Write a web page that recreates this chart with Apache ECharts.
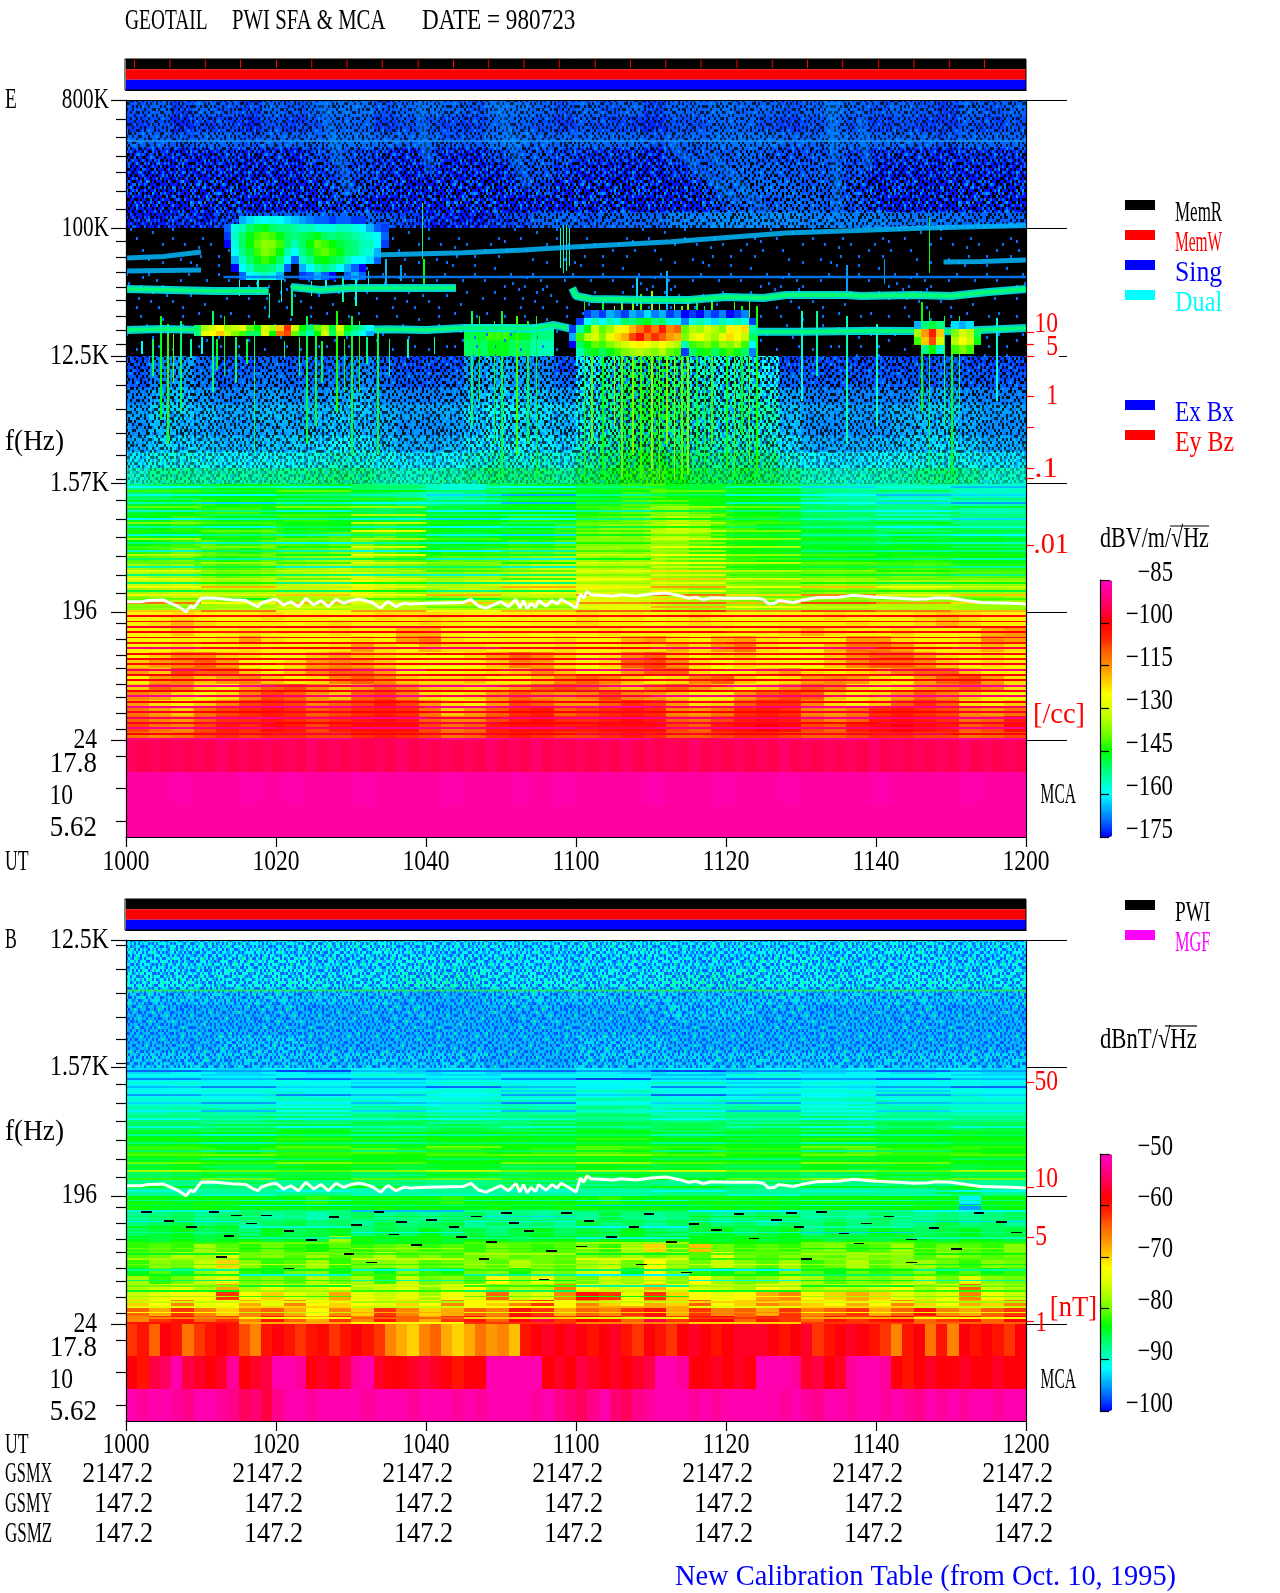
<!DOCTYPE html>
<html><head><meta charset="utf-8">
<style>html,body{margin:0;padding:0;background:#fff}#c{width:1280px;height:1593px}</style>
<script src="https://cdn.jsdelivr.net/npm/echarts@6/dist/echarts.min.js"></script>
</head><body><div id="c"></div>
<script>
// ---------- labels ----------
const utLabels=['1000','1020','1040','1100','1120','1140','1200'];
const gsmx=['2147.2','2147.2','2147.2','2147.2','2147.2','2147.2','2147.2'];
const gsmy=['147.2','147.2','147.2','147.2','147.2','147.2','147.2'];
const gsmz=['147.2','147.2','147.2','147.2','147.2','147.2','147.2'];
const cbLabelsE=['−85','−100','−115','−130','−145','−160','−175'];
const cbLabelsB=['−50','−60','−70','−80','−90','−100'];
// ---------- frequency ticks (Hz) ----------
const majorE=[800000,100000,12500,1570,196,24.4];
const majorB=[12500,1570,196,24.4];
const minorHi=[587000,439000,322000,248000,182000,136000,80000,62400,49000,38000,30700,23700,19000,15200];
const minorLo=[11500,7800,5300,3580,2500,1690,1205,885,653,480,356,266,163,126,97,78.6,60.6,49,37.8,29.2];
const densityE=[18460,15190,12500,6530,3950,2030,1720,580];
const densityB=[1245,226,100,25.6];
// ---------- E spectrogram, dB magnitude ----------
const eHigh=[
[171,170,172,170,171,172,170,171,170,169,169,171,170,169,170,171,169,169,170,171,170,171,170,172,170,170,169,170,170,171,170,169,170,171,170,171,172,170,171,170],
[172,171,173,172,172,173,171,172,171,170,170,172,171,171,172,172,170,170,171,172,171,172,172,173,171,171,170,170,171,172,171,170,171,172,171,172,172,171,172,171],
[170,170,171,170,170,171,170,170,170,169,169,170,170,170,171,171,169,169,170,170,170,170,170,171,170,170,169,169,169,170,170,169,170,170,170,170,171,170,170,170],
[173,173,174,174,173,174,173,174,172,171,172,173,174,172,174,174,172,171,171,172,173,173,173,174,172,171,171,170,171,172,171,171,172,173,173,173,174,173,173,173],
[174,174,174,174,174,174,174,174,173,172,172,173,174,174,174,174,174,172,171,173,174,174,174,174,173,172,171,170,170,171,171,171,172,174,174,174,174,174,174,174],
[174,174,174,174,174,174,174,174,174,172,172,174,174,174,174,174,174,174,172,174,174,174,174,174,174,173,171,170,170,170,171,171,173,174,174,174,174,174,174,174],
[174,174,174,174,174,174,174,174,174,173,174,174,174,174,174,174,174,174,174,174,174,174,174,174,174,174,172,171,171,170,170,171,172,174,174,174,174,174,174,174],
[174,174,173,174,172,172,170,170,170,170,170,171,172,174,174,174,173,172,170,170,171,170,170,170,168,168,167,167,167,167,168,168,168,168,169,169,169,170,170,170]];
const eMid=[
[185,185,185,185,185,185,185,185,185,185,185,185,185,185,185,185,185,185,185,185,185,185,185,185,185,185,185,185,185,185,185,185,185,185,185,185,185,185,185,185],
[185,185,185,185,185,185,185,185,185,185,185,185,185,185,185,185,185,185,185,185,185,185,185,185,185,185,185,185,185,185,185,185,185,185,185,185,185,185,185,185],
[185,185,185,185,185,185,185,185,185,185,185,185,185,185,185,185,185,185,185,185,185,185,185,185,185,185,185,185,185,185,185,185,185,185,185,185,185,185,185,185],
[185,185,185,185,185,185,185,185,185,185,185,185,185,185,185,185,185,185,185,185,185,185,185,185,185,185,185,185,185,185,185,185,185,185,185,185,185,185,185,185],
[185,185,185,185,185,185,185,185,185,185,185,185,185,185,185,185,185,185,185,185,185,185,185,185,185,185,185,185,185,185,185,185,185,185,185,185,185,185,185,185],
[185,185,185,185,185,185,185,185,185,185,185,185,185,185,185,185,185,185,185,185,185,185,185,185,185,185,185,185,185,185,185,185,185,185,185,185,185,185,185,185],
[185,185,185,185,185,185,185,185,185,185,185,185,185,185,185,148,142,146,152,185,185,185,185,185,185,185,185,185,185,185,185,185,185,185,185,185,185,185,185,185],
[185,185,185,185,185,185,185,185,185,185,185,185,185,185,185,150,146,150,155,185,185,185,185,185,185,185,185,185,185,185,185,185,185,185,185,185,185,185,185,185]];
// fine patches where the emission is much brighter: dB magnitude, 0 = nothing
const burstDome=[
[0,0,0,165,162,158,160,158,160,162,164,166,168,170,170,172,170,170,172,172,0,0,0,0],
[0,170,158,155,150,148,146,150,152,152,154,156,155,158,158,158,156,156,158,160,165,170,172,0],
[0,172,156,150,146,142,140,142,146,150,152,150,148,146,150,152,150,152,154,156,158,160,170,0],
[0,175,158,150,145,140,137,138,142,150,155,150,145,140,142,145,148,150,152,155,156,160,172,0],
[0,0,160,152,148,142,138,140,145,155,160,152,148,142,140,143,146,150,152,156,158,165,0,0],
[0,0,165,156,150,146,142,145,150,160,170,156,152,146,145,148,150,155,160,160,162,170,0,0],
[0,0,175,160,155,150,150,152,156,170,0,165,160,155,152,155,160,165,170,175,0,0,0,0],
[0,0,0,170,160,158,155,158,165,0,0,172,170,165,170,175,0,170,165,170,0,0,0,0]];
const burstRise=[
[0,0,0,172,168,172,165,168,172,165,168,162,168,165,172,168,175,172,175,168,172,168,175,172,168,0,0],
[0,0,172,160,155,160,155,158,150,152,148,146,152,150,158,158,168,158,155,158,162,155,158,155,158,172,0],
[0,172,155,146,132,140,136,128,124,118,112,106,112,104,114,110,140,134,136,130,134,138,124,128,122,155,0],
[0,165,142,134,130,138,128,122,118,108,102,112,106,110,116,118,138,130,126,132,136,128,122,126,132,150,0],
[0,175,150,145,140,142,138,134,130,126,124,126,130,126,130,134,155,142,140,138,142,136,138,134,142,160,0],
[0,0,155,148,146,150,146,142,138,136,134,136,138,134,140,142,172,150,146,144,150,146,142,146,150,168,0]];
const burstRight=[
[0,165,152,148,152,0,162,165,162,0],[0,135,116,104,120,0,138,130,134,150],[0,142,120,108,130,0,134,126,132,146],[0,0,152,145,156,0,142,138,142,0]];
const burstLeft=[
[150,135,130,125,135,132,128,140,145,130,135,120,106,130,145,150,140,135,148,130,145,150,155,160],
[152,128,125,120,130,138,142,150,150,128,145,112,108,140,150,155,145,130,150,135,150,155,160,165]];
const eUp=[
[172,168,166,170,172,172,170,171,172,170,168,171,172,172,172,166,164,166,168,172,160,154,150,148,152,157,158,157,160,172,172,172,172,172,172,172,171,172,172,172],
[171,168,166,169,171,170,169,170,170,169,167,170,171,171,170,166,164,166,167,170,160,153,149,148,151,157,158,157,159,170,171,171,171,171,171,171,170,171,171,171],
[168,165,164,166,168,167,166,167,167,165,164,167,168,168,167,164,162,163,164,166,158,152,148,147,150,155,157,155,157,166,168,168,168,168,168,166,165,167,168,168],
[166,163,163,164,165,165,164,165,164,163,163,165,166,166,165,162,160,161,162,163,157,152,148,147,150,154,155,154,155,164,166,166,166,166,165,164,163,165,166,166],
[167,164,164,165,166,166,165,165,164,163,164,165,167,167,166,163,161,163,163,164,158,154,150,149,152,156,157,155,157,164,167,167,167,167,165,164,163,165,167,167],
[165,162,162,163,164,164,163,163,162,160,161,163,165,165,164,161,159,160,161,162,156,152,149,148,151,154,155,154,155,161,165,165,165,164,163,162,161,163,165,165],
[161,158,158,159,160,160,159,159,158,156,157,159,161,161,160,157,155,157,156,158,153,150,147,146,148,151,152,151,152,157,160,161,161,160,159,158,157,159,161,161],
[156,153,153,154,154,154,153,153,152,151,152,154,156,155,154,152,150,151,151,153,149,147,144,143,145,148,149,148,149,152,155,156,156,155,154,152,151,153,156,156]];
const eLow1=[
[152,150,148,148,146,145,146,148,147,146,150,152,152,155,158,158,150,148,147,146,147,148,143,142,146,148,147,146,146,148,152,153,155,155,155,154,155,156,157,157],
[150,150,147,146,146,145,145,146,147,148,149,150,153,156,155,152,148,146,145,146,147,146,142,142,144,146,146,145,146,147,150,154,155,154,156,155,155,157,156,157],
[147,146,146,143,145,144,146,147,146,146,147,148,150,152,150,150,148,146,145,145,144,144,141,140,140,144,146,145,146,147,150,152,154,153,152,152,154,156,155,155],
[148,146,145,143,142,142,146,145,144,145,148,150,148,147,148,147,146,146,146,145,144,142,140,138,136,140,143,145,145,147,150,150,151,152,153,152,150,154,155,154],
[146,146,142,143,145,146,144,143,143,146,146,147,148,146,146,146,145,143,143,144,142,141,139,136,132,136,142,144,143,148,149,150,152,150,150,150,151,153,152,152],
[147,145,143,144,146,145,143,145,144,145,144,142,144,145,146,147,147,146,145,142,140,137,137,135,130,134,141,142,146,147,148,148,150,150,151,150,148,150,150,150],
[144,146,146,144,143,144,142,144,143,141,142,140,143,146,148,148,146,144,144,142,138,136,138,134,132,136,143,144,144,146,148,148,148,149,146,147,148,149,148,150],
[145,144,142,140,143,143,140,141,142,140,138,142,143,146,146,145,144,142,143,140,138,138,138,136,136,141,143,144,145,147,147,147,148,148,146,146,147,147,147,148],
[143,142,138,140,142,144,141,140,140,137,136,140,142,145,143,143,142,140,141,138,136,136,138,136,138,143,144,145,146,147,147,146,146,146,144,146,146,146,146,147],
[141,140,138,142,144,143,140,138,136,134,134,139,141,142,140,141,140,138,136,134,135,138,136,137,140,142,142,143,145,146,144,144,145,145,144,143,144,145,145,146],
[136,138,136,140,142,141,138,136,135,132,134,136,138,140,140,139,138,136,132,132,133,135,134,136,138,141,141,142,143,143,142,142,143,142,142,141,142,143,143,143],
[133,136,135,137,140,138,136,134,133,130,130,134,136,137,138,136,135,132,130,130,132,133,133,135,137,138,139,140,140,141,140,139,140,140,138,138,140,140,140,141],
[131,132,130,133,136,136,133,132,130,128,126,130,133,135,135,132,130,128,126,128,130,132,132,133,135,136,136,137,138,138,136,134,136,136,134,135,136,135,136,136],
[136,134,132,133,134,134,133,133,133,130,127,132,136,136,134,132,132,130,126,128,128,130,133,133,135,138,138,138,140,140,138,136,138,137,134,134,136,136,136,135],
[138,136,133,134,137,136,135,135,134,133,130,134,136,138,136,135,135,134,132,133,128,128,130,132,134,136,136,138,140,140,138,138,138,136,136,136,136,138,138,136],
[137,136,135,136,134,135,134,133,135,135,132,133,134,134,134,135,135,135,134,134,130,128,128,130,134,136,136,136,138,136,135,136,136,134,135,135,134,136,136,137]];
const eLow2=[
[124,124,122,124,126,124,122,124,124,126,124,122,123,122,123,124,126,124,124,124,122,124,123,126,124,122,124,126,127,124,124,122,124,124,124,122,120,122,124,124],
[124,122,118,122,124,124,124,126,124,122,124,124,124,122,124,126,126,126,124,124,122,124,124,126,124,122,124,126,126,124,124,124,122,124,124,122,118,122,124,124],
[124,124,120,124,124,122,124,124,124,122,124,124,118,118,124,126,124,124,126,124,124,122,124,124,124,124,124,126,124,122,118,122,124,124,122,124,124,124,118,116],
[124,126,124,124,122,116,122,124,126,124,122,124,116,112,122,124,124,124,124,122,124,124,118,116,122,124,118,116,122,124,124,124,116,116,122,124,124,122,114,116],
[124,124,122,124,124,122,124,124,124,122,116,122,124,118,122,122,124,124,124,122,124,124,122,122,118,122,116,112,122,124,124,118,112,112,116,122,124,122,118,122],
[124,120,114,114,120,122,124,124,120,116,120,122,124,126,126,122,116,110,114,120,124,122,114,110,120,124,122,120,124,126,124,120,114,110,110,116,122,124,122,126],
[120,116,114,110,116,124,126,122,116,114,116,120,124,126,126,124,120,114,116,122,126,122,110,108,114,122,126,122,124,126,126,120,114,110,110,114,120,124,122,124],
[116,120,108,110,110,120,124,120,114,110,110,116,124,124,126,124,122,120,114,120,126,124,116,110,110,122,126,124,120,116,122,124,122,120,114,110,110,120,124,124],
[124,116,114,120,116,114,120,124,122,114,110,114,120,122,122,120,124,124,120,114,110,114,120,124,122,114,110,120,124,122,116,114,116,122,124,116,110,108,116,122],
[120,110,114,122,124,116,110,108,114,120,116,110,114,120,120,122,120,116,110,108,110,116,120,114,110,116,120,124,120,114,110,114,122,124,122,116,114,110,114,122],
[114,116,122,126,122,114,108,110,116,120,110,108,114,122,124,122,116,110,114,116,114,108,114,116,120,124,124,116,110,108,110,120,124,122,116,110,114,120,124,126],
[116,122,124,120,114,108,106,108,114,110,108,104,108,116,122,124,116,108,110,116,116,110,106,108,116,122,120,110,106,106,114,122,124,120,110,106,110,122,124,120],
[112,116,120,112,108,106,104,106,110,108,106,104,106,112,120,116,110,106,104,110,108,106,104,106,114,116,112,106,104,106,114,116,112,106,104,106,108,114,116,112],
[110,114,116,110,106,106,104,106,108,106,104,102,104,110,114,114,108,104,102,106,106,104,102,104,110,112,108,104,102,104,110,114,110,104,102,104,106,112,110,104],
[108,112,114,108,104,106,102,104,108,104,102,102,102,108,112,110,104,102,102,104,104,102,102,102,108,110,104,102,100,102,108,110,104,102,100,102,104,110,108,102],
[112,114,112,108,106,108,106,106,108,108,106,104,106,108,112,110,106,104,106,108,108,106,104,106,110,110,108,106,106,108,110,110,108,106,106,108,108,112,110,108]];
const eStripe1=[
[160,155,158,150,157,160,152,148,156,162,158,164],[142,148,140,145,150,152,146,140,148,152,150,156],[158,160,152,155,162,165,154,150,158,160,164,162],[150,146,150,143,155,150,148,144,146,154,158,152],
[155,162,156,160,158,164,150,146,156,160,162,166],[140,144,138,136,148,146,142,136,140,150,152,148],[156,152,158,150,160,158,154,148,152,158,160,156],[146,150,142,134,150,154,144,138,146,150,156,152],
[160,156,154,158,162,160,152,146,150,156,158,162],[138,142,146,132,144,150,140,134,142,148,146,152],[154,158,150,156,160,156,148,144,150,154,160,158],[144,140,148,128,146,148,142,132,138,146,150,148],
[158,152,156,150,158,162,146,140,148,154,156,160],[136,146,140,134,142,146,138,130,136,144,148,146],[152,156,160,154,156,158,144,138,146,150,154,156],[142,138,144,130,148,144,136,128,134,146,146,150],
[156,150,154,158,160,154,142,136,144,152,154,152],[134,140,146,128,144,148,132,126,136,142,146,144],[150,154,152,148,156,158,146,134,142,150,152,156],[140,136,142,130,138,144,130,126,132,140,142,146],
[154,148,156,152,150,156,140,132,144,148,150,154],[130,138,134,136,142,140,128,122,134,138,144,142],[152,146,150,154,156,150,138,130,142,146,148,152],[128,134,140,130,136,142,126,120,130,136,140,138],
[150,144,152,146,150,152,136,128,140,144,148,146],[126,118,132,128,134,118,124,116,128,120,126,132],[148,142,150,146,152,148,134,126,138,142,144,148],[124,130,120,126,118,132,116,112,122,114,128,120],
[140,146,136,142,148,140,130,122,134,136,140,142],[112,126,118,128,120,124,114,110,118,108,116,122],[138,136,130,134,140,138,128,118,126,132,134,136],[120,112,124,116,126,118,110,106,114,108,112,118]];
const eStripe2=[
[100,102,100,102,100,100,102,100,98,102,100,102],[102,100,102,100,104,100,100,102,100,100,102,100],[98,102,100,98,102,100,102,98,100,102,98,100],[100,104,102,100,98,102,100,100,104,100,102,100],
[100,98,102,100,98,100,102,100,98,100,102,98],[104,100,100,102,100,98,100,104,100,102,100,102],[92,98,100,96,92,98,100,94,98,92,100,96],[100,102,98,104,100,102,98,100,102,100,98,100],
[100,100,98,100,102,100,94,100,100,98,100,102],[102,100,104,100,98,100,102,100,104,100,100,98],[94,100,96,92,100,96,92,98,94,100,96,92],[100,98,100,102,100,104,100,98,100,102,98,100],
[100,98,100,102,98,100,100,102,100,98,100,100],[92,90,96,92,90,94,92,96,90,94,92,90],[100,102,100,98,100,102,98,100,102,100,100,98],[90,94,92,90,94,92,96,90,92,94,90,92],
[100,100,98,100,102,100,100,98,102,100,98,100],[90,92,90,94,90,92,90,94,92,90,92,94],[98,100,98,100,98,100,98,100,100,98,100,98],[94,90,92,90,96,92,90,92,94,90,92,90],
[98,96,100,98,96,100,98,96,98,100,96,98],[90,92,94,90,92,90,94,92,90,92,94,90],[100,98,96,100,98,100,96,98,100,98,96,100],[92,90,92,94,90,92,90,94,92,90,92,90]];
const eChan1=[94,95,94,95,94,95,94,95,93,95,94,95,94,95,94,95,93,95,94,95,94,95,94,95,93,95,94,95,94,95,94,95,93,95,94,95,93,95,94,95,94,95,94,95,93,95,94,95,94,95,93,95,94,95,94,95,94,95,93,95,94,95,94,95,94,95,93,95,94,95,94,95,94,95,93,95,94,95,94,95];
const eChan2=[88,88,87,88,88,87,88,87,88,88,87,88,88,88,87,88,88,87,88,87,88,88,88,87,88,88,87,88,88,87,88,88,88,87,88,88,88,87,88,88];
const eChan3=[88,88,88,88,88,88,88,88,88,88,88,88,88,88,88,88,88,88,88,88,88,88,88,88,88,88,88,88,88,88,88,88,88,88,88,88,88,88,88,88];
// burst streaks: minute, upper Hz, lower Hz, dB magnitude
const eStreaks=[[4.5,24000,4500,146],[5.5,21000,3000,143],[6.2,18000,8000,140],[7.2,22000,5000,150],[11.5,26000,7000,152],[13,24000,9000,146],[17,22000,2500,150],[24,24000,3000,148],[25.2,20000,4000,148],[28,26000,5000,144],[30,24000,2500,148],[31,22000,7000,144],[33.5,19000,2500,148],[46,26000,4000,150],[47,24000,6000,144],[49,22000,3000,146],[50,26000,1800,148],[52,24000,2500,142],[53.5,22000,3000,148],[54.6,24000,1700,146],[57.8,100000,52000,158],[58.2,105000,48000,155],[58.6,105000,50000,156],[59,100000,54000,158],[61,30000,1700,144],[62,26000,3000,140],[63.5,32000,1800,146],[65,28000,4000,136],[66,33000,1700,140],[67.5,31000,2500,138],[68.5,34000,1700,142],[70,36000,2000,136],[71,33000,1700,140],[72,35000,3000,138],[73,31000,1700,136],[74,28000,1700,140],[74.8,30000,1800,138],[76,30000,2500,148],[77,28000,1800,146],[78,31000,3000,142],[80,26000,2000,146],[81,30000,1800,142],[82,28000,3500,145],[83,33000,2200,140],[84,28000,1800,144],[90,26000,6000,158],[92,26000,9000,154],[106,30000,5000,145],[107,26000,2000,148],[109,24000,4000,150],[110,22000,1800,146],[111,24000,5000,150],[96,24000,3000,155],[100,21000,4000,156],[116,23000,6000,158],[19,35000,23000,155],[22,36000,24000,152],[39.4,150000,60000,152],[39.6,60000,40000,146],[107,120000,48000,146],[15,50000,33000,160],[17.5,48000,34000,156],[20.6,44000,30000,158],[24.6,42000,33000,156],[26.5,48000,36000,160],[28.8,46000,30000,155],[30.5,43000,28000,158],[32.2,50000,36000,160],[34.5,60000,40000,164],[36.5,55000,42000,166],[68,45000,28000,162],[72,50000,26000,164],[96,55000,36000,166],[101,60000,40000,166],[2,16000,13000,160],[10,17000,13000,160],[21,16000,12000,150],[41,17000,13000,156],[48,16000,12000,150],[3.5,16500,9000,150],[8.5,16500,12000,155],[12,16500,10000,146],[14.5,17000,8000,150],[16,16500,11000,148],[23,17000,9000,150],[26,16000,8000,148],[29,16500,7000,146],[32,17000,11000,152],[35,16500,9000,154],[37.5,16500,12000,156]];
// whistler-like blue streaks in upper band: minute, Hz, minute, Hz (null separates)
const eSlants=[[26,780000],[30,170000],null,[39,780000],[40.5,240000],null,[49.5,780000],[53.5,190000],null,[94,780000],[95,118000],null,[73,370000],[82,150000],null,[78,330000],[86,120000],null,[98,600000],[99,260000]];
// emission lines: minute, Hz
const lineUpperA=[[0,37100],[6,36500],[12,35900],[19,35900],null,[22,38300],[26,36500],[30,37700],[36,37700],[44,37700]];
const lineUpperB=[[59.5,37700],[60,33100],[62,31600],[70,31000],[75,31000],[80,32600],[85,32100],[88,33700],[96,33700],[98,33100],[105,33700],[110,33100],[115,35400],[120,37100]];
const lineLower=[[0,19100],[5,19400],[10,19100],[15,19300],[20,19100],[25,19500],[30,19100],[35,19300],[40,19100],[45,19700],[50,19700],[54,19400],[57,20700],[60,19100],[65,18500],[70,18800],[80,18500],[90,18500],[100,18800],[110,18700],[120,19700]];
const lineSlopes=[[33,64500],[45,67000],[53,69900],[59.6,73400],[72.7,80000],[88,92200],[107,100000],[120,104000],null,[0,61400],[5,63000],[10,67800],null,[0,49700],[10,50500],null,[109,57600],[114,58000],[120,59500]];
const lineThin=[[13,45100],[120,45100]];
const lineRef=[[0,411000],[120,411000]];
const lineFaint=[[0,5500],[120,5500]];
const fce=[[0,231],[2,231],[3,235],[5,237],[6,225],[7,213],[8,196],[8.6,215],[9,208],[9.5,225],[10,244],[11,245],[12,244],[14,238],[16,235],[17,219],[17.6,213],[18,225],[19,235],[20,240],[21,219],[22,230],[23,213],[24,244],[25,219],[26,235],[27,213],[28,240],[29,225],[30,235],[31,240],[32,235],[33,225],[33.6,213],[34,208],[34.6,225],[35,231],[36,213],[37,225],[38,222],[40,225],[45,228],[46,240],[47,215],[48,208],[49,219],[50,231],[51,213],[52,240],[52.5,208],[53,235],[53.5,205],[54,225],[54.6,210],[55,235],[56,215],[56.8,235],[57.5,222],[58,240],[59,225],[60,208],[60.6,262],[61,244],[61.5,272],[62,258],[65,253],[66,258],[68,253],[70,262],[72,266],[74,253],[75,244],[76,248],[77,238],[78,246],[80,244],[84,244],[85,240],[85.7,222],[86.5,225],[87,235],[89,228],[90,235],[92,246],[95,248],[97,256],[98,253],[100,248],[103,244],[105,240],[107,242],[108,246],[110,244],[112,235],[114,228],[118,225],[120,222]];
// ---------- B spectrogram, dB magnitude ----------
const bHigh=[
[92,92,91,92,92,91,92,92,91,92],[92,91,92,91,92,92,92,91,92,92],[91,91,91,90,91,91,90,91,91,91],[93,93,93,94,93,93,93,93,93,93],
[94,94,94,94,94,94,93,94,94,94],[94,94,94,94,94,94,94,94,94,94],[94,93,94,94,94,93,94,94,94,94],[93,93,93,93,94,93,93,93,93,93]];
const bLow1=[
[93,92,93,92,93,92,93,92,93,93,92,93,92,93,92,93,92,93,92,93],[92,92,92,91,92,92,92,91,92,92,91,92,92,92,91,92,92,92,91,92],
[92,91,91,91,91,92,92,91,90,91,92,91,91,91,91,91,92,91,91,92],[91,91,91,90,91,91,90,91,90,90,91,90,91,91,90,91,90,90,90,91],
[90,90,90,90,90,90,91,90,89,90,90,90,90,89,90,90,89,90,90,90],[89,88,89,88,88,89,88,89,88,89,88,89,88,88,88,89,89,88,89,89],
[87,87,87,86,87,87,86,87,87,86,87,87,88,87,87,86,87,87,87,87],[86,86,85,85,85,86,86,85,86,85,85,86,85,86,85,85,86,85,86,85],
[84,84,84,83,84,84,83,84,83,84,84,84,85,84,84,84,84,84,83,84],[84,83,84,83,84,83,84,83,83,84,83,84,84,83,84,83,84,83,84,84],
[82,82,83,82,82,81,82,82,83,82,81,82,83,82,82,82,81,82,82,83],[84,83,84,83,83,84,83,84,83,84,84,83,84,83,84,83,84,84,83,84],
[85,84,85,85,84,84,85,84,85,85,84,85,84,85,85,84,85,84,85,84],[86,85,86,85,85,86,85,85,86,85,86,85,86,85,85,86,85,86,85,85],
[88,88,87,88,88,87,88,88,87,88,88,87,88,88,88,87,88,87,88,88],[88,88,88,88,88,89,88,88,88,89,88,88,87,87,88,88,88,88,85,88]];
const bLow2=[
[83,83,84,83,83,83,84,83,82,83,83,83,83,83,82,83,83,83,83,83,83,82,83,84,83,83,83,83,83,84,83,83,83,83,83,84,83,92,83,83],
[83,84,84,83,84,84,83,84,83,84,84,83,84,83,84,84,83,84,84,83,83,84,84,83,84,84,83,84,83,84,84,83,84,84,83,83,84,95,84,83],
[88,87,86,88,87,86,88,87,89,87,86,88,87,88,87,86,88,87,88,87,88,85,87,88,87,86,88,87,86,87,88,87,88,86,87,88,87,88,87,86],
[87,86,85,87,86,88,86,85,87,86,88,85,87,86,85,88,86,87,86,88,85,87,86,88,86,85,87,86,88,86,87,85,87,86,88,87,85,87,86,88],
[86,85,84,86,85,87,84,86,85,84,87,85,86,84,86,85,87,85,84,86,85,86,84,86,87,85,84,86,85,84,87,85,86,84,85,86,85,84,86,85],
[84,85,83,85,84,83,85,84,85,78,83,85,84,83,85,83,84,85,84,83,85,83,84,85,83,84,85,83,85,84,83,85,84,85,83,84,85,83,84,85],
[82,81,82,78,81,82,80,82,83,81,82,81,80,82,81,82,80,81,82,81,80,82,78,70,81,69,80,82,81,82,80,79,82,81,78,82,80,81,82,79],
[81,80,77,78,74,80,79,81,78,81,80,77,81,79,81,80,79,81,80,81,79,80,78,80,78,81,74,80,81,79,80,81,78,80,79,81,78,80,81,80],
[82,79,80,76,70,79,82,81,78,82,80,79,78,81,80,79,81,77,80,81,78,76,80,72,78,80,76,79,81,78,82,80,77,81,79,78,80,82,79,80],
[84,81,85,79,76,82,84,80,79,83,81,84,79,82,83,80,79,83,78,80,76,74,84,72,80,82,84,81,83,79,81,84,80,82,81,79,83,81,84,82],
[78,82,80,76,74,80,79,81,77,80,78,82,76,80,79,81,72,78,74,79,80,76,78,74,79,72,78,80,79,76,78,81,79,80,78,76,80,74,79,80],
[78,76,74,78,68,78,74,77,76,72,78,76,74,79,75,72,79,77,78,66,72,76,74,68,73,75,76,78,72,74,78,76,77,75,72,78,74,64,76,78],
[76,74,72,72,62,72,70,74,76,68,74,76,74,78,73,74,64,76,74,66,60,62,74,62,70,72,74,72,68,66,72,70,68,70,74,76,74,66,73,76],
[70,72,66,74,72,68,74,66,72,70,72,74,70,72,66,72,70,66,62,72,66,70,72,68,70,64,72,70,66,68,70,72,68,72,66,70,72,68,70,66],
[64,68,62,66,70,66,64,68,72,66,70,62,66,70,68,64,66,60,62,68,64,66,62,60,68,62,66,64,68,62,66,64,62,68,64,60,66,68,64,62],
[66,62,60,64,62,66,60,64,68,62,66,60,64,68,62,60,64,58,56,62,58,60,64,56,62,60,58,64,60,62,64,60,62,60,58,64,62,60,64,58]];
const bStripe1=[
[97,95,98,94,96,97,95,98,96,94,97,95],[91,93,92,90,93,91,92,94,90,92,91,93],[96,94,97,95,93,96,98,94,96,95,97,94],[90,92,91,93,90,92,91,89,93,90,92,91],
[94,96,93,95,97,94,92,96,94,93,95,97],[91,90,92,91,90,93,89,91,92,90,93,91],[95,93,96,94,92,95,93,97,94,92,95,93],[90,91,89,92,90,91,88,90,92,89,91,90],
[93,95,92,94,93,96,91,93,95,92,94,93],[89,90,91,88,90,89,87,90,88,91,89,90],[92,94,91,93,92,94,90,92,94,91,93,92],[88,89,90,87,89,88,86,89,87,90,88,89],
[91,89,92,90,91,90,88,91,89,92,90,88],[86,88,87,85,88,87,85,86,88,87,85,86],[90,88,91,89,87,90,88,86,89,91,87,90],[85,86,84,87,85,86,84,86,85,87,84,85],
[88,90,87,89,88,87,86,89,87,90,88,86],[83,84,82,85,83,84,82,83,85,82,84,83],[87,89,86,88,86,87,85,88,86,89,87,85],[82,83,81,84,80,83,81,82,84,80,83,82],
[86,88,85,87,85,86,84,87,85,88,86,84],[81,80,82,83,81,80,79,81,83,80,82,81],[85,87,86,84,86,85,84,86,87,85,84,86],[80,82,79,81,83,80,78,81,82,79,80,83],
[84,86,83,85,84,86,83,85,86,84,83,85],[78,80,81,79,77,80,78,76,80,79,81,78],[86,84,85,87,84,85,84,86,85,87,84,86],[82,80,83,81,80,82,80,83,81,79,82,80],
[87,85,88,86,87,85,86,88,85,87,86,88],[84,86,85,83,86,84,85,83,86,84,85,83],[90,88,91,89,88,90,89,91,88,90,89,91],[88,90,87,89,90,88,89,87,90,88,89,87]];
const bStripe2=[
[88,90,86,89,91,87,90,88],[85,92,88,86,93,87,90,86],[90,87,94,88,86,92,88,91],[86,89,85,93,88,84,90,87],
[92,86,88,90,85,91,87,93],[84,90,86,88,92,85,89,86],[88,85,91,86,84,90,93,87],[85,88,83,87,90,84,86,89],
[82,80,84,81,78,83,80,82],[80,83,78,82,76,80,84,79],[84,80,82,78,84,81,78,83],[78,82,76,80,74,82,79,81],
[80,76,82,78,80,75,78,84],[88,84,90,82,86,92,84,88],[84,90,82,88,92,84,86,82],[86,82,88,84,78,90,84,88],
[80,84,76,82,88,78,84,80],[84,78,82,86,76,84,80,82],[78,82,74,80,84,72,78,80],[76,74,78,72,76,70,74,78],
[74,70,76,72,68,74,70,76],[72,76,68,74,70,66,72,74],[66,72,64,70,74,62,68,72],[60,68,72,62,66,70,62,64]];
// short low-power dashes: minute, Hz
const bDashes=[[2,150],[5,130],[8,118],[11,150],[13,102],[16,125],[18,142],[21,110],[24,95],[27,138],[30,122],[33,150],[35,104],[38,88],[40,132],[43,118],[46,140],[48,92],[51,126],[53,110],[56,80],[58,148],[61,130],[64,100],[67,118],[69,146],[72,92],[75,124],[78,112],[81,145],[83,98],[86,132],[89,118],[92,150],[95,106],[98,125],[101,140],[104,96],[107,116],[110,82],[113,148],[116,128],[118,108],[12,72],[32,66],[47,70],[68,64],[90,70],[104,66],[21,60],[74,56],[55,50],[36,128],[60,86],[29,76],[88,148],[50,148],[44,100],[14,142],[97,90]];
const bChan1=[62,60,64,58,60,65,62,60,58,60,63,66,60,58,60,62,60,59,62,60,58,60,62,66,68,70,66,64,68,70,68,65,67,66,69,60,58,57,58,57,58,60,58,57,60,62,58,60,62,58,57,58,60,58,57,57,57,58,60,58,57,62,60,58,57,58,60,62,66,60,58,65,60,66,58,60,58,60,62,58];
const bChan2=[58,60,56,55,51,56,57,58,57,52,58,57,56,51,51,52,58,57,58,56,52,51,57,58,58,57,56,57,58,60,58,58,51,51,51,51,51,58,57,58,56,57,58,57,58,57,56,51,51,52,58,58,57,58,57,58,51,51,51,52,57,56,58,57,52,51,51,52,58,60,58,57,58,58,57,58,58,57,58,58];
const bChan3=[51,52,51,51,52,53,51,51,52,53,55,54,56,53,51,51,52,51,51,51,51,52,51,51,51,52,51,51,51,52,51,52,51,51,51,51,52,51,53,54,55,53,51,54,55,53,52,51,51,51,52,51,52,51,51,51,51,51,52,51,52,53,51,51,52,51,51,52,51,52,53,51,52,51,52,51,51,52,51,51];
const stripTicks=[1.07,5.8,10.5,15.2,20,24.7,29.4,34.1,38.9,43.6,48.3,53,57.7,62.5,67.2,71.9,76.6,81.4,86.1,90.8,95.5,100.3,105,109.7,114.4];
// speckle strength per row of each noisy block
const speckE1=[.7,.7,.7,.85,.9,1,1,.8];
const speckE2=[1,1,1,1,1,1,1,1];
const speckE3=[.9,.9,.85,.75,.8,.7,.55,.35];
const speckB1=[.85,.85,.85,.85,.85,.85,.85,.85];
// ---------- colour scale ----------
const scale=['#0000ff','#0060ff','#00b0ff','#00ffff','#00ffb0','#00ff60','#00ff00','#60ff00','#a8ff00','#d8ff00','#ffff00','#ffc800','#ff9000','#ff6000','#ff2000','#ff0000','#ff0050','#ff0090','#ff00c0'];
const tileText=[
"k..c.k...kk..k.c..k.k...k.kk..k.",".k...kk.k...c.k..k...kk....k.k..","...k...k..kk...k...c.k..k.k...kc","k.k..c...k...k.kk...k..k...kk...",
".kk.k..kk..c..k...k...c..k...k.k","k....k...k..k...kk.k.k...k.k....","..k.c.kk...k.k.c.....k.kk..c..kk",".k..k...k.k....k.k.k......k.k...",
"k..k..k....kk.k...k..kk.k....k.k","..k...c.k.k....k...k.....k.c.k..",".k.kk....k..k.k..c..k.k.k...k..k","k....k.k...k...k.k...k...k.k..k.",
"..kk...k.c.k.k...k.k..kk...c...k","k...k.....k...kk....k....k.k.k..",".c.k..kk.k..k....k.k.kc.k...k..k","k....k....k...k.k..k....k.k...k.",
"..k.k..k.k.kc..k.....k.k....k..k",".k.....k.....k...kk.k...k.kk..k.","k..kk.k..kk.k..k.....kk....k....","..k.....k....k.c.k.k...k.k..k.kc",
".k..c.k..k.k...k....k.c...k...k.","k..k....k...k.k...kk...k.k..k...","..k..kk..k.....k.k..k.....k..kk.","k..k...k...k.k....k...k.k...k..k"];
const TW=32,TH=24,PW=2,PH=3;
// look-up into the texture tile; the four quadrants read it with different offsets so the repeat is less obvious
function tx(x,y,q){const ox=[0,13,5,23][q],oy=[0,11,5,17][q];const flip=q%2===1;
 const row=tileText[(y+oy)%TH];const i=(x+ox)%TW;return row[flip?TW-1-i:i]||'.';}
function makeTile(kCol,cCol,mCol){const cv=document.createElement('canvas');cv.width=TW*2*PW;cv.height=TH*2*PH;const g=cv.getContext('2d');
 for(let q=0;q<4;q++){const qx=q%2?TW:0,qy=q>1?TH:0;for(let y=0;y<TH;y++)for(let x=0;x<TW;x++){
  const ch=tx(x,y,q),m=tx(x+7,y+5,q);const col=ch==='k'?kCol:ch==='c'?cCol:(m==='k'?mCol:null);
  if(col){g.fillStyle=col;g.fillRect((qx+x)*PW,(qy+y)*PH,PW,PH);}}}
 return cv;}
const tiles=[makeTile('#000000','#00a0ff','#0070ff'),makeTile(null,'#0070ff',null),makeTile('#0048ff','#00ff90','#00a0ff')];
// ---------- helpers ----------
const lg=Math.log10;
const chart=echarts.init(document.getElementById('c'),null,{renderer:'canvas'});
function band(matrix,hzTop,hzBot,fill,out,t0,t1){t0=t0||0;t1=t1==null?120:t1;const t=lg(hzTop),b=lg(hzBot),h=(t-b)/matrix.length;
 matrix.forEach((row,r)=>{const w=(t1-t0)/row.length;row.forEach((v,c)=>{if(v)out.push([t0+c*w,t0+(c+1)*w,t-(r+1)*h,t-(r+1)*h+h*fill,-v]);});});return out;}
function chan(rows,out){rows.forEach((row,r)=>{const w=120/row.length;row.forEach((v,c)=>out.push([c*w,(c+1)*w,2-r,3-r,-v]));});return out;}
const cellItem=floor=>(p,api)=>{const a=api.coord([api.value(0),api.value(3)]),b=api.coord([api.value(1),api.value(2)]);
 const x=Math.round(a[0]),y=Math.round(a[1]);
 return {type:'rect',shape:{x,y,width:Math.max(1,Math.round(b[0])-x),height:Math.max(1,Math.round(b[1])-y)},style:{fill:api.value(4)<floor?'#000':api.visual('color')}};};
function cells(data,g,y,z,opacity,floor){return {type:'custom',xAxisIndex:g,yAxisIndex:y,data,renderItem:cellItem(floor==null?-175:floor),encode:{x:[0,1],y:[2,3]},z,silent:true,animation:false,clip:true,itemStyle:{opacity:opacity||1},dimensions:['a','b','c','d','v']};}
function speck(strength,hzTop,hzBot,tile,g,y){const n=strength.length,t=lg(hzTop),b=lg(hzBot),h=(t-b)/n;const data=[];
 for(let r=0;r<n;r++)data.push([0,120,t-(r+1)*h,t-r*h,strength[r]]);
 return {type:'custom',xAxisIndex:g,yAxisIndex:y,data,encode:{x:[0,1],y:[2,3]},z:4,silent:true,animation:false,clip:true,
  renderItem:(p,api)=>{const a=api.coord([0,api.value(3)]),b2=api.coord([120,api.value(2)]);return {type:'rect',shape:{x:a[0],y:Math.round(a[1]),width:b2[0]-a[0],height:Math.round(b2[1])-Math.round(a[1])},style:{fill:{image:tiles[tile],repeat:'repeat'},opacity:api.value(4)}};}};}
function line(data,g,y,color,width,opacity,z){return {type:'line',xAxisIndex:g,yAxisIndex:y,data:data.map(d=>d?[d[0],lg(d[1])]:[null,null]),connectNulls:false,showSymbol:false,symbol:'none',silent:true,animation:false,z:z||6,clip:true,lineStyle:{color,width,opacity:opacity==null?1:opacity}};}
function strip(rows,g,y,z){return {type:'custom',xAxisIndex:g,yAxisIndex:y,data:rows,encode:{x:[0,1],y:2},z:z||2,silent:true,animation:false,
 renderItem:(p,api)=>{const i=p.dataIndex,a=api.coord([rows[i][0],rows[i][2]+1]),b=api.coord([rows[i][1],rows[i][2]]);return {type:'rect',shape:{x:a[0],y:a[1],width:b[0]-a[0],height:b[1]-a[1]},style:{fill:rows[i][3]}};}};}
// ---------- cell tables ----------
const eCells=[];band(eHigh,800000,100000,1,eCells);band(eMid,100000,12500,1,eCells);band(eUp,12500,1570,1,eCells);band(eLow1,1570,196,1,eCells);band(eLow2,196,24.4,1,eCells);
const eLines=[];band(eStripe1,1570,196,.5,eLines);
const eLines2=[];band(eStripe2,196,24.4,.36,eLines2);
const eStreakCells=eStreaks.map(s=>[s[0],s[0]+.26,lg(s[2]),lg(s[1]),-s[3]]);
const ePatch=[];band(burstDome,121500,43000,1,ePatch,12,36);
const ePatchTop=[];band(burstRise,26400,12500,1,ePatchTop,58,85);band(burstRight,22000,13000,1,ePatchTop,104,114);band(burstLeft,20700,17200,1,ePatchTop,9,33);
const eMca=chan([eChan1,eChan2,eChan3],[]);
const bCells=[];band(bHigh,12500,1570,1,bCells);band(bLow1,1570,196,1,bCells);band(bLow2,196,24.4,1,bCells);
const bLines=[];band(bStripe1,1570,196,.5,bLines);band(bStripe2,196,24.4,.3,bLines);
const bDash=bDashes.map(d=>[d[0],d[0]+1.4,lg(d[1]*.99),lg(d[1]*1.015),-110]);
const bMca=chan([bChan1,bChan2,bChan3],[]);
// ---------- grids ----------
const L=126,W=900;
const grids=[[59,31],[100,640],[740,97],[899,31],[940,384],[1324,97]].map(a=>({left:L,width:W,top:a[0],height:a[1]}));
grids.push({left:1100,width:12,top:580,height:257,show:false},{left:1100,width:12,top:1154,height:257,show:false});
const off={show:false};
const black={color:'#000',width:1.2};
const xA=(g,pos,o)=>Object.assign({type:'value',gridIndex:g,min:0,max:120,position:pos,z:9,axisLabel:off,splitLine:off,axisTick:off,axisLine:{show:true,lineStyle:black}},o||{});
const xAxes=[xA(0,'bottom'),xA(1,'top'),xA(2,'bottom',{interval:20,axisTick:{show:true,length:10,lineStyle:black}}),xA(3,'bottom'),xA(4,'top'),xA(5,'bottom',{interval:20,axisTick:{show:true,length:10,lineStyle:black}}),xA(6,'bottom',{show:false}),xA(7,'bottom',{show:false})];
const yA=(g,pos,min,max,ticks,len,col,withLine)=>({type:'value',gridIndex:g,position:pos,min,max,z:9,axisLabel:off,splitLine:off,
 axisLine:{show:!!withLine,lineStyle:black},axisTick:{show:!!ticks,length:len||0,customValues:ticks||undefined,lineStyle:{color:col||'#000',width:1.2}}});
const eT=lg(800000),eB=lg(24.4),bT=lg(12500);
const yAxes=[
 yA(0,'left',0,3),
 yA(1,'left',eB,eT,minorHi.concat(minorLo).map(lg),10,'#000',true),
 yA(1,'left',eB,eT,majorE.map(lg),15),
 yA(1,'right',eB,eT,majorE.map(lg),41,'#000',true),
 yA(1,'right',eB,eT,densityE.map(lg),8,'#f00'),
 yA(2,'left',0,3,[.5,1.5,2.5],10,'#000',true),
 yA(2,'right',0,3,null,0,'#000',true),
 yA(3,'left',0,3),
 yA(4,'left',eB,bT,minorLo.map(lg),10,'#000',true),
 yA(4,'left',eB,bT,majorB.map(lg),15),
 yA(4,'right',eB,bT,majorB.map(lg),41,'#000',true),
 yA(4,'right',eB,bT,densityB.map(lg),8,'#f00'),
 yA(5,'left',0,3,[.5,1.5,2.5],10,'#000',true),
 yA(5,'right',0,3,null,0,'#000',true),
 Object.assign(yA(6,'right',-175,-85,null,0,'#000',true),{interval:15,axisTick:{show:true,length:9,lineStyle:black}}),
 Object.assign(yA(7,'right',-100,-50,null,0,'#000',true),{interval:10,axisTick:{show:true,length:9,lineStyle:black}})
];
// ---------- series ----------
const stripE=[[0,120,2,'#000'],[0,120,1,'#f00'],[0,120,0,'#00f']];
const stripB=[[0,120,2,'#000'],[0,120,1,'#f00'],[0,120,0,'#00f']];
const tickRows=stripTicks.map(t=>[t,t+.14,2.05,'#f00']);
const tickSeries={type:'custom',xAxisIndex:0,yAxisIndex:0,data:tickRows,encode:{x:[0,1],y:2},z:3,silent:true,animation:false,
 renderItem:(p,api)=>{const r=tickRows[p.dataIndex],a=api.coord([r[0],2.95]),b=api.coord([r[1],2.1]);return {type:'rect',shape:{x:a[0],y:a[1],width:1,height:b[1]-a[1]},style:{fill:'#f00'}};}};
const series=[
 cells(eCells,1,1,2),          //0
 cells(eLines,1,1,3,.7),       //1
 cells(eLines2,1,1,3,.95),     //2
 cells(eStreakCells,1,1,5),    //3
 cells(eMca,2,5,2),            //4
 cells(ePatch,1,1,5),          //5
 cells(ePatchTop,1,1,8),       //6
 cells(bCells,4,8,2,1,-100),   //7
 cells(bLines,4,8,3,.7,-100),  //8
 cells(bDash,4,8,5,1,-100),    //9
 cells(bMca,5,12,2,1,-100),    //10
 strip(stripE,0,0),tickSeries,strip(stripB,3,7),
 speck(speckE1,800000,100000,0,1,1),
 speck(speckE2,100000,12500,1,1,1),
 speck(speckE3,12500,1570,0,1,1),
 speck(speckB1,12500,1570,2,4,8),
 line(eSlants,1,1,'#0090ff',10,.33,5),
 line(lineSlopes,1,1,'#00b8ff',5,.85),
 line(lineThin,1,1,'#0080ff',2.5,.9),
 line(lineRef,1,1,'#20a0ff',1.6,.9),
 line(lineUpperA,1,1,'#00e8e0',8,.9),line(lineUpperA,1,1,'#00ff70',3.5,.95,7),
 line(lineUpperB,1,1,'#00e8e0',8,.9),line(lineUpperB,1,1,'#00ff70',4,.95,7),
 line(lineLower,1,1,'#00e8e0',8,.9),line(lineLower,1,1,'#00ff70',3.5,.95,7),
 line(fce,1,1,'#fff',3,1,7),
 line(fce,4,8,'#fff',3,1,7),
 line(lineFaint,4,8,'#30f040',2,.75)
];
const vmBase={type:'continuous',dimension:4,inRange:{color:scale},outOfRange:{color:'#000'},calculable:false,hoverLink:false,itemWidth:12,itemHeight:257,padding:0,left:1100,text:null,show:true,realtime:false,borderWidth:0};
chart.setOption({animation:false,backgroundColor:'#fff',grid:grids,xAxis:xAxes,yAxis:yAxes,series,
 visualMap:[Object.assign({},vmBase,{min:-175,max:-85,top:580,seriesIndex:[0,1,2,3,4,5,6]}),Object.assign({},vmBase,{min:-100,max:-50,top:1154,seriesIndex:[7,8,9,10]})]});
// ---------- text ----------
const mc=document.createElement('canvas').getContext('2d');const FONT='29px "Liberation Serif"';mc.font=FONT;
const G=[];
function T(s,x,y,col,al,cw){const w=s.length*(cw||11.8),sc=w/mc.measureText(s).width;const x0=al==='r'?x-w:al==='c'?x-w/2:x;
 G.push({type:'text',x:x0,y:y+2,scaleX:sc,z:100,silent:true,style:{text:s,font:FONT,fill:col||'#000',textAlign:'left',textVerticalAlign:'middle'}});}
const R=(x,y,w,h,fill,stroke)=>G.push({type:'rect',z:90,silent:true,shape:{x,y,width:w,height:h},style:{fill:fill||'none',stroke:stroke||null}});
const Ln=(x1,y1,x2,y2)=>G.push({type:'line',z:100,silent:true,shape:{x1,y1,x2,y2},style:{stroke:'#000',lineWidth:1.2}});
T('GEOTAIL',125,19);T('PWI SFA & MCA',232,19);T('DATE = 980723',422,19);
R(125,59,901,31,null,'#000');R(125,899,901,31,null,'#000');
R(1034,352,25,8,'#fff');
// y labels
const py=(axis,v)=>chart.convertToPixel({yAxisIndex:axis},v);
const px=(g,v)=>chart.convertToPixel({xAxisIndex:g},v);
[['800K',800000,109],['100K',100000,109],['12.5K',12500,109],['1.57K',1570,109],['196',196,97],['24',24.4,97]].forEach(a=>T(a[0],a[2],py(2,lg(a[1]))-2,'#000','r'));
[['12.5K',12500,109],['1.57K',1570,109],['196',196,97],['24',24.4,97]].forEach(a=>T(a[0],a[2],py(9,lg(a[1]))-2,'#000','r'));
[['17.8',2.5,97],['10',1.5,73],['5.62',.5,97]].forEach(a=>{T(a[0],a[2],py(5,a[1])+6,'#000','r');T(a[0],a[2],py(12,a[1])+6,'#000','r');});
T('E',5,98);T('f(Hz)',5,440);T('UT',5,860);T('B',5,938);T('f(Hz)',5,1130);T('UT',5,1443);T('GSMX',5,1472);T('GSMY',5,1502);T('GSMZ',5,1532);
utLabels.forEach((s,i)=>{const x=px(2,i*20);T(s,x,860,'#000','c');T(s,x,1443,'#000','c');T(gsmx[i],x+27,1472,'#000','r');T(gsmy[i],x+27,1502,'#000','r');T(gsmz[i],x+27,1532,'#000','r');});
// right labels
T('10',1058,322,'#f00','r');T('5',1058,345,'#f00','r');T('1',1058,394,'#f00','r');T('.1',1058,467,'#f00','r');T('.01',1069,543,'#f00','r');T('[/cc]',1085,713,'#f00','r',10.4);T('MCA',1076,793,'#000','r');
T('50',1058,1080,'#f00','r');T('10',1058,1177,'#f00','r');T('5',1047,1235,'#f00','r');T('1',1047,1321,'#f00','r');T('[nT]',1097,1306,'#f00','r');T('MCA',1076,1378,'#000','r');
// colour bar labels
cbLabelsE.forEach((s,i)=>T(s,1173,py(14,-85-15*i)-9,'#000','r'));
cbLabelsB.forEach((s,i)=>T(s,1173,py(15,-50-10*i)-9,'#000','r'));
T('dBV/m/√Hz',1100,537,'#000','l',12.1);Ln(1170,526,1209,526);
T('dBnT/√Hz',1100,1038,'#000','l',12.1);Ln(1165,1026,1197,1026);
// legends
[['MemR','#000',200],['MemW','#f00',230],['Sing','#00f',260],['Dual','#0ff',290],['Ex Bx','#00f',400],['Ey Bz','#f00',430],['PWI','#000',900],['MGF','#f0f',930]].forEach(a=>{R(1125,a[2],30,10,a[1]);T(a[0],1175,a[2]+11,a[1]);});
T('New Calibration Table (from Oct. 10, 1995)',675,1575,'#00f','l',11.93);
chart.setOption({graphic:G});
</script></body></html>
